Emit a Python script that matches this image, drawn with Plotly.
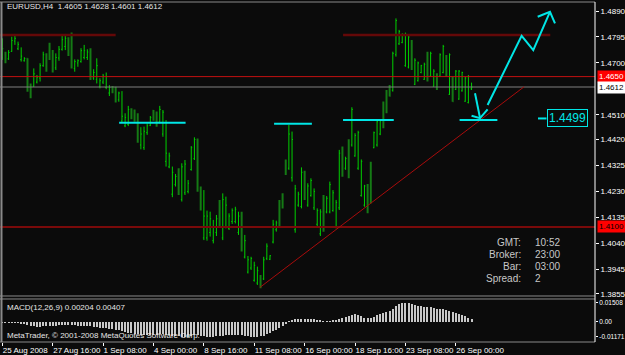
import plotly.graph_objects as go

# ---------------- data ----------------
highs = [1.4790,1.4741,1.4747,1.4796,1.4806,1.4778,1.4757,1.4721,1.4717,1.4625,
         1.4680,1.4656,1.4699,1.4741,1.4735,1.4774,1.4747,1.4735,1.4762,1.4799,
         1.4806,1.4794,1.4811,1.4713,1.4713,1.4754,1.4766,1.4750,1.4754,1.4677,
         1.4717,1.4644,1.4660,1.4665,1.4619,1.4616,1.4613,1.4595,1.4597,1.4516,
         1.4543,1.4534,1.4530,1.4516,1.4465,1.4467,1.4479,1.4506,1.4528,1.4522,
         1.4543,1.4528,1.4491,1.4372,1.4321,1.4294,1.4315,1.4333,1.4345,1.4272,
         1.4396,1.4428,1.4424,1.4248,1.4235,1.4160,1.4156,1.4126,1.4144,1.4199,
         1.4223,1.4211,1.4150,1.4168,1.4174,1.4156,1.4156,1.4071,1.3994,1.3991,
         1.3973,1.3955,1.3924,1.3991,1.4040,1.3997,1.4126,1.4123,1.4199,1.4223,
         1.4347,1.4473,1.4449,1.4254,1.4229,1.4318,1.4306,1.4260,1.4278,1.4241,
         1.4168,1.4165,1.4217,1.4213,1.4266,1.4235,1.4199,1.4382,1.4394,1.4357,
         1.4421,1.4538,1.4443,1.4452,1.4347,1.4254,1.4257,1.4339,1.4449,1.4491,
         1.4491,1.4559,1.4601,1.4619,1.4741,1.4863,1.4821,1.4808,1.4811,1.4802,
         1.4784,1.4717,1.4705,1.4693,1.4701,1.4741,1.4741,1.4677,1.4662,1.4735,
         1.4766,1.4729,1.4735,1.4650,1.4674,1.4674,1.4668,1.4650,1.4656,1.4628]
lows = [1.4711,1.4699,1.4711,1.4741,1.4766,1.4747,1.4705,1.4705,1.4595,1.4571,
        1.4613,1.4625,1.4632,1.4686,1.4668,1.4711,1.4665,1.4674,1.4708,1.4745,
        1.4747,1.4725,1.4680,1.4668,1.4686,1.4701,1.4713,1.4711,1.4638,1.4638,
        1.4625,1.4607,1.4623,1.4604,1.4579,1.4589,1.4555,1.4558,1.4482,1.4465,
        1.4469,1.4494,1.4485,1.4408,1.4384,1.4382,1.4437,1.4469,1.4489,1.4467,
        1.4479,1.4430,1.4321,1.4315,1.4209,1.4248,1.4217,1.4193,1.4217,1.4223,
        1.4306,1.4345,1.4229,1.4160,1.4052,1.4050,1.4065,1.4040,1.4067,1.4099,
        1.4052,1.4095,1.4089,1.4111,1.4113,1.4071,1.4010,1.3985,1.3930,1.3943,
        1.3900,1.3888,1.3876,1.3906,1.3979,1.3979,1.4040,1.4083,1.4101,1.4168,
        1.4290,1.4309,1.4266,1.4079,1.4174,1.4168,1.4199,1.4174,1.4211,1.4162,
        1.4101,1.4067,1.4083,1.4150,1.4150,1.4156,1.4095,1.4162,1.4284,1.4309,
        1.4278,1.4394,1.4357,1.4309,1.4211,1.4174,1.4150,1.4187,1.4388,1.4394,
        1.4436,1.4461,1.4516,1.4577,1.4595,1.4723,1.4766,1.4772,1.4686,1.4680,
        1.4674,1.4619,1.4632,1.4662,1.4638,1.4632,1.4650,1.4613,1.4601,1.4650,
        1.4662,1.4650,1.4583,1.4558,1.4601,1.4565,1.4595,1.4558,1.4552,1.4601]
opens = [1.4720,1.4735,1.4715,1.4742,1.4780,1.4752,1.4712,1.4708,1.4715,1.4612,
         1.4615,1.4630,1.4645,1.4690,1.4730,1.4760,1.4730,1.4682,1.4718,1.4750,
         1.4760,1.4790,1.4795,1.4680,1.4700,1.4705,1.4720,1.4720,1.4745,1.4645,
         1.4640,1.4615,1.4630,1.4610,1.4590,1.4612,1.4600,1.4565,1.4488,1.4470,
         1.4475,1.4530,1.4520,1.4510,1.4400,1.4390,1.4445,1.4472,1.4525,1.4515,
         1.4485,1.4440,1.4340,1.4320,1.4220,1.4255,1.4300,1.4200,1.4225,1.4230,
         1.4310,1.4350,1.4415,1.4240,1.4060,1.4060,1.4080,1.4050,1.4080,1.4190,
         1.4060,1.4100,1.4095,1.4120,1.4120,1.4080,1.4150,1.3990,1.3935,1.3950,
         1.3905,1.3895,1.3920,1.3910,1.3985,1.3982,1.4045,1.4090,1.4190,1.4220,
         1.4340,1.4315,1.4280,1.4090,1.4180,1.4175,1.4300,1.4180,1.4215,1.4170,
         1.4110,1.4075,1.4210,1.4155,1.4155,1.4160,1.4100,1.4170,1.4390,1.4315,
         1.4415,1.4400,1.4360,1.4315,1.4215,1.4180,1.4250,1.4335,1.4390,1.4400,
         1.4440,1.4555,1.4595,1.4615,1.4600,1.4730,1.4770,1.4775,1.4690,1.4685,
         1.4780,1.4622,1.4635,1.4665,1.4640,1.4735,1.4652,1.4615,1.4658,1.4652,
         1.4665,1.4725,1.4585,1.4645,1.4603,1.4568,1.4598,1.4560,1.4555,1.4605]
closes = [1.4752,1.4712,1.4738,1.4782,1.4790,1.4768,1.4725,1.4716,1.4610,1.4600,
          1.4660,1.4648,1.4690,1.4730,1.4700,1.4725,1.4680,1.4720,1.4750,1.4785,
          1.4790,1.4745,1.4700,1.4705,1.4708,1.4745,1.4745,1.4740,1.4645,1.4665,
          1.4690,1.4635,1.4652,1.4650,1.4610,1.4595,1.4570,1.4590,1.4505,1.4500,
          1.4530,1.4500,1.4490,1.4420,1.4440,1.4450,1.4470,1.4500,1.4495,1.4480,
          1.4530,1.4520,1.4370,1.4360,1.4300,1.4285,1.4230,1.4320,1.4330,1.4260,
          1.4390,1.4420,1.4240,1.4170,1.4140,1.4140,1.4130,1.4100,1.4130,1.4110,
          1.4200,1.4180,1.4140,1.4160,1.4165,1.4140,1.4020,1.4050,1.3980,1.3985,
          1.3960,1.3940,1.3880,1.3980,1.4030,1.3995,1.4110,1.4115,1.4110,1.4175,
          1.4300,1.4440,1.4420,1.4240,1.4220,1.4300,1.4210,1.4250,1.4270,1.4230,
          1.4160,1.4155,1.4090,1.4205,1.4255,1.4225,1.4190,1.4370,1.4290,1.4350,
          1.4285,1.4530,1.4435,1.4445,1.4340,1.4250,1.4155,1.4190,1.4445,1.4485,
          1.4488,1.4465,1.4520,1.4580,1.4735,1.4855,1.4815,1.4805,1.4805,1.4795,
          1.4680,1.4710,1.4700,1.4690,1.4695,1.4640,1.4735,1.4670,1.4605,1.4730,
          1.4760,1.4655,1.4730,1.4560,1.4670,1.4670,1.4665,1.4645,1.4650,1.4612]
macd = [-0.0004,-0.0005,-0.0005,-0.0006,-0.0005,-0.0006,-0.0008,-0.0014,-0.0022,-0.0030,
        -0.0034,-0.0036,-0.0036,-0.0033,-0.0032,-0.0031,-0.0030,-0.0028,-0.0025,-0.0022,
        -0.0021,-0.0022,-0.0025,-0.0027,-0.0028,-0.0028,-0.0028,-0.0030,-0.0034,-0.0038,
        -0.0040,-0.0044,-0.0047,-0.0050,-0.0054,-0.0058,-0.0062,-0.0066,-0.0074,-0.0080,
        -0.0085,-0.0088,-0.0091,-0.0096,-0.0101,-0.0105,-0.0106,-0.0105,-0.0102,-0.0100,
        -0.0097,-0.0096,-0.0099,-0.0103,-0.0108,-0.0112,-0.0114,-0.0115,-0.0116,-0.0117,
        -0.0112,-0.0106,-0.0105,-0.0108,-0.0113,-0.0117,-0.0117,-0.0116,-0.0114,-0.0110,
        -0.0108,-0.0105,-0.0104,-0.0102,-0.0101,-0.0102,-0.0106,-0.0110,-0.0114,-0.0116,
        -0.0117,-0.0116,-0.0114,-0.0108,-0.0098,-0.0088,-0.0074,-0.0062,-0.0048,-0.0034,
        -0.0016,0.0006,0.0018,0.0020,0.0022,0.0026,0.0027,0.0026,0.0024,0.0020,
        0.0014,0.0008,0.0006,0.0005,0.0006,0.0008,0.0010,0.0020,0.0030,0.0038,
        0.0048,0.0058,0.0062,0.0056,0.0044,0.0034,0.0030,0.0034,0.0042,0.0052,
        0.0060,0.0070,0.0080,0.0090,0.0106,0.0124,0.0138,0.0148,0.0151,0.0148,
        0.0142,0.0136,0.0130,0.0126,0.0122,0.0119,0.0116,0.0110,0.0104,0.0102,
        0.0100,0.0096,0.0090,0.0080,0.0072,0.0064,0.0054,0.0044,0.0034,0.0020]
bars = list(range(len(highs)))

# time axis labels (every 16 H4 bars)
time_tick_bars = [0, 16, 32, 48, 64, 80, 96, 112, 128, 144]
time_tick_labels = ["25 Aug 2008", "27 Aug 16:00", "1 Sep 08:00", "4 Sep 00:00",
                    "8 Sep 16:00", "11 Sep 08:00", "16 Sep 00:00", "18 Sep 16:00",
                    "23 Sep 08:00", "26 Sep 00:00"]
price_ticks = [1.4890, 1.4795, 1.4700, 1.4510, 1.4420, 1.4325, 1.4230,
               1.4135, 1.4040, 1.3945, 1.3855]
macd_ticks = [0.01508, 0.0, -0.01171]
macd_tick_labels = ["0.01508", "0.00", "-0.01171"]

# drawn objects (bar index, price)
red_level = 1.4650
bid_level = 1.4612
maroon_level = 1.4100
top_level_segments = [([-0.7, 36.0], 1.4802), ([108.2, 174.0], 1.4802)]
cyan_segments = [([37.1, 58.2], 1.4481), ([86.3, 98.3], 1.4478),
                 ([108.2, 124.3], 1.4491), ([145.2, 157.2], 1.4491),
                 ([170.1, 172.8], 1.4497)]
trend_x = [81.8, 165.7]
trend_y = [1.3879, 1.4613]
down_arrow_x = [150.1, 151.7]
down_arrow_y = [1.4589, 1.4498]
down_head_x = [149.0, 151.7, 154.1]
down_head_y = [1.4507, 1.4498, 1.4530]
zigzag_x = [154.1, 164.9, 168.6, 173.9]
zigzag_y = [1.4546, 1.4799, 1.4747, 1.4887]
up_head_x = [170.0, 173.9, 175.5]
up_head_y = [1.4869, 1.4887, 1.4845]
label_price = 1.4497
label_bar = 172.8
label_text = "1.4499"

# ---------------- figure ----------------
FONT = "Liberation Sans, Arial, sans-serif"
BG = "#0b0b0b"
CYAN = "#00e6e6"

fig = go.Figure()

for lvl, col, w in [(red_level, "#c41010", 1), (bid_level, "#808080", 1),
                    (maroon_level, "#7a0a0a", 2)]:
    fig.add_trace(go.Scatter(x=[-1, 190], y=[lvl, lvl], mode="lines",
                             line=dict(color=col, width=w), xaxis="x", yaxis="y",
                             showlegend=False, hoverinfo="skip"))
for xs, lvl in top_level_segments:
    fig.add_trace(go.Scatter(x=xs, y=[lvl, lvl], mode="lines",
                             line=dict(color="#640808", width=2.5), xaxis="x", yaxis="y",
                             showlegend=False, hoverinfo="skip"))

fig.add_trace(go.Ohlc(x=bars, open=opens, high=highs, low=lows, close=closes,
                      increasing=dict(line=dict(color="#00d000", width=1)),
                      decreasing=dict(line=dict(color="#157a15", width=2)),
                      tickwidth=0.3, xaxis="x", yaxis="y", showlegend=False,
                      hoverinfo="skip"))

fig.add_trace(go.Scatter(x=trend_x, y=trend_y, mode="lines",
                         line=dict(color="#a80c0c", width=1), xaxis="x", yaxis="y",
                         showlegend=False, hoverinfo="skip"))
for xs, lvl in cyan_segments:
    fig.add_trace(go.Scatter(x=xs, y=[lvl, lvl], mode="lines",
                             line=dict(color=CYAN, width=2), xaxis="x", yaxis="y",
                             showlegend=False, hoverinfo="skip"))
for xs, ys in [(down_arrow_x, down_arrow_y), (down_head_x, down_head_y),
               (zigzag_x, zigzag_y), (up_head_x, up_head_y)]:
    fig.add_trace(go.Scatter(x=xs, y=ys, mode="lines",
                             line=dict(color=CYAN, width=2), xaxis="x", yaxis="y",
                             showlegend=False, hoverinfo="skip"))

fig.add_trace(go.Bar(x=bars, y=macd, width=0.34, marker=dict(color="#c8c8c8", line=dict(width=0)),
                     xaxis="x2", yaxis="y2", showlegend=False, hoverinfo="skip"))

main_dom = [0.1353, 1.0]
macd_dom = [0.0, 0.1265]
xr = [-0.73, 188.2]

fig.update_layout(
    width=625, height=355,
    margin=dict(l=0, r=30, t=2, b=13, autoexpand=False),
    paper_bgcolor=BG, plot_bgcolor=BG,
    hovermode=False, bargap=0,
    font=dict(family=FONT, size=8, color="#ffffff"),
    xaxis=dict(domain=[0, 1], range=xr, anchor="y", showticklabels=False, ticks="",
               showgrid=False, zeroline=False, rangeslider=dict(visible=False),
               showline=False, automargin=False),
    yaxis=dict(domain=main_dom, range=[1.38476, 1.49229], side="right", anchor="x",
               tickvals=price_ticks, ticktext=[f"{v:.4f}" for v in price_ticks],
               ticks="outside", ticklen=3, tickcolor="#ffffff",
               tickfont=dict(family=FONT, size=8, color="#ffffff"),
               showgrid=False, zeroline=False, showline=False, automargin=False),
    xaxis2=dict(domain=[0, 1], range=xr, anchor="y2", matches="x",
                tickvals=time_tick_bars, ticktext=time_tick_labels, tickangle=0,
                ticks="outside", ticklen=3, tickcolor="#ffffff",
                ticklabelposition="outside right",
                tickfont=dict(family=FONT, size=8, color="#ffffff"),
                showgrid=False, zeroline=False, showline=False, automargin=False),
    yaxis2=dict(domain=macd_dom, range=[-0.01576, 0.01812], side="right", anchor="x2",
                tickvals=macd_ticks, ticktext=macd_tick_labels,
                ticks="outside", ticklen=2, tickcolor="#ffffff",
                tickfont=dict(family=FONT, size=6.5, color="#ffffff"),
                showgrid=False, zeroline=False, showline=False, automargin=False),
)

GRAY = "#8a8a8a"
shapes = [
    dict(type="line", xref="paper", yref="paper", x0=0.0025, x1=0.0025, y0=0, y1=1,
         line=dict(color=GRAY, width=2)),
    dict(type="line", xref="paper", yref="paper", x0=0, x1=1, y0=1, y1=1,
         line=dict(color=GRAY, width=1)),
    dict(type="line", xref="paper", yref="paper", x0=0, x1=1, y0=main_dom[0], y1=main_dom[0],
         line=dict(color=GRAY, width=1)),
    dict(type="line", xref="paper", yref="paper", x0=0, x1=1, y0=macd_dom[1], y1=macd_dom[1],
         line=dict(color=GRAY, width=1)),
    dict(type="line", xref="paper", yref="paper", x0=0, x1=1, y0=0, y1=0,
         line=dict(color=GRAY, width=1)),
    dict(type="line", xref="paper", yref="paper", x0=1, x1=1, y0=0, y1=1,
         line=dict(color="#ffffff", width=1)),
]
fig.update_layout(shapes=shapes)

def py(px):
    return (342 - px) / 340.0

ann = []
ann.append(dict(xref="paper", yref="paper", x=5 / 595, y=py(7), xanchor="left", yanchor="middle",
                text="EURUSD,H4  1.4605 1.4628 1.4601 1.4612", showarrow=False,
                font=dict(family=FONT, size=8, color="#e6e6e6")))
ann.append(dict(xref="paper", yref="paper", x=5 / 595, y=py(307), xanchor="left", yanchor="middle",
                text="MACD(12,26,9) 0.00204 0.00407", showarrow=False,
                font=dict(family=FONT, size=8, color="#e6e6e6")))
ann.append(dict(xref="paper", yref="paper", x=5 / 595, y=py(335), xanchor="left", yanchor="middle",
                text="MetaTrader, © 2001-2008 MetaQuotes Software Corp.", showarrow=False,
                font=dict(family=FONT, size=8, color="#e6e6e6")))
info_keys = ["GMT:", "Broker:", "Bar:", "Spread:"]
info_vals = ["10:52", "23:00", "03:00", "2"]
for k, (lab, val) in enumerate(zip(info_keys, info_vals)):
    yy = py(243 + 11.7 * k)
    ann.append(dict(xref="paper", yref="paper", x=523 / 595, y=yy, xanchor="right", yanchor="middle",
                    text=lab, showarrow=False, font=dict(family=FONT, size=10, color="#c8c8c8")))
    ann.append(dict(xref="paper", yref="paper", x=533 / 595, y=yy, xanchor="left", yanchor="middle",
                    text=val, showarrow=False, font=dict(family=FONT, size=10, color="#c8c8c8")))
for val, bg, fg in [(red_level, "#ff0000", "#ffffff"), (bid_level, "#ffffff", "#000000"),
                    (maroon_level, "#ff0000", "#000000")]:
    ann.append(dict(xref="paper", yref="y", x=1, y=val, xanchor="left", yanchor="middle",
                    xshift=2, text=f"{val:.4f}", showarrow=False, bgcolor=bg, borderpad=1,
                    font=dict(family=FONT, size=8, color=fg)))
ann.append(dict(xref="x", yref="y", x=label_bar, y=label_price, xanchor="left", yanchor="middle",
                text=label_text, showarrow=False, bordercolor=CYAN, borderwidth=1,
                borderpad=1, font=dict(family=FONT, size=12, color=CYAN)))
fig.update_layout(annotations=ann)

fig.write_html("out.html")
